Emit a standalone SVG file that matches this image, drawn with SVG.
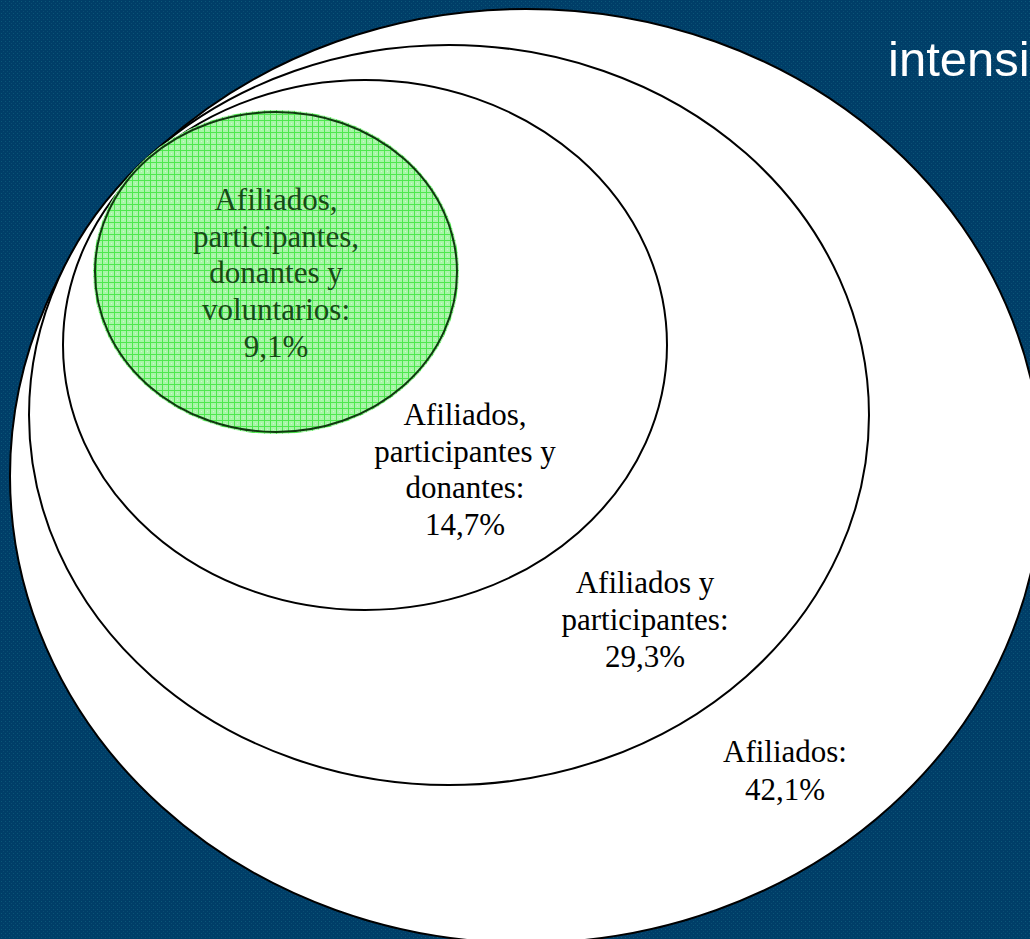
<svg xmlns="http://www.w3.org/2000/svg" width="1030" height="939" viewBox="0 0 1030 939">
<defs>
<pattern id="bgpat" width="4" height="4" patternUnits="userSpaceOnUse">
<rect width="4" height="4" fill="#003e68"/>
<rect x="1" y="1" width="1" height="1" fill="#0b5677"/>
<rect x="3" y="3" width="1" height="1" fill="#0a4d72"/>
</pattern>
<pattern id="greenpat" width="6" height="6" patternUnits="userSpaceOnUse">
<rect width="6" height="6" fill="#a8f5a8"/>
<rect x="0" y="0" width="6" height="1" fill="#4ee84e"/>
<rect x="0" y="0" width="1" height="6" fill="#4ee84e"/>
<rect x="3" y="3" width="1" height="1" fill="#c8ffc8"/>
</pattern>
<style>
.ring{fill:#ffffff;stroke:#000000;stroke-width:2}
.lbl{font-family:"Liberation Serif","Times New Roman",serif;font-size:31px;fill:#000000;text-anchor:middle}
.glbl{font-family:"Liberation Serif","Times New Roman",serif;font-size:31px;fill:#174a17;text-anchor:middle}
</style>
</defs>
<rect width="1030" height="939" fill="url(#bgpat)"/>
<text x="888" y="76" font-family="Liberation Sans, Arial, sans-serif" font-size="49" fill="#ffffff">intensi</text>
<g id="afiliados">
<ellipse class="ring" cx="526" cy="476" rx="516" ry="467"/>
</g>
<g id="afiliados-participantes">
<ellipse class="ring" cx="449" cy="415" rx="420" ry="370"/>
</g>
<g id="afiliados-participantes-donantes">
<ellipse class="ring" cx="365" cy="345" rx="302" ry="265"/>
</g>
<g id="afiliados-participantes-donantes-voluntarios">
<ellipse cx="276" cy="272" rx="183" ry="162" fill="url(#greenpat)"/>
<ellipse cx="276" cy="272" rx="181" ry="160" fill="none" stroke="#0f3a0f" stroke-width="2"/>
</g>
<g id="labels">
<text class="glbl" x="276" y="210">Afiliados,</text>
<text class="glbl" x="276" y="247">participantes,</text>
<text class="glbl" x="276" y="283">donantes y</text>
<text class="glbl" x="276" y="320">voluntarios:</text>
<text class="glbl" x="276" y="357">9,1%</text>
<text class="lbl" x="465" y="425">Afiliados,</text>
<text class="lbl" x="465" y="462">participantes y</text>
<text class="lbl" x="465" y="498">donantes:</text>
<text class="lbl" x="465" y="535">14,7%</text>
<text class="lbl" x="645" y="593">Afiliados y</text>
<text class="lbl" x="645" y="630">participantes:</text>
<text class="lbl" x="645" y="667">29,3%</text>
<text class="lbl" x="785" y="762">Afiliados:</text>
<text class="lbl" x="785" y="800">42,1%</text>
</g>
<g id="connectors"/>
</svg>
